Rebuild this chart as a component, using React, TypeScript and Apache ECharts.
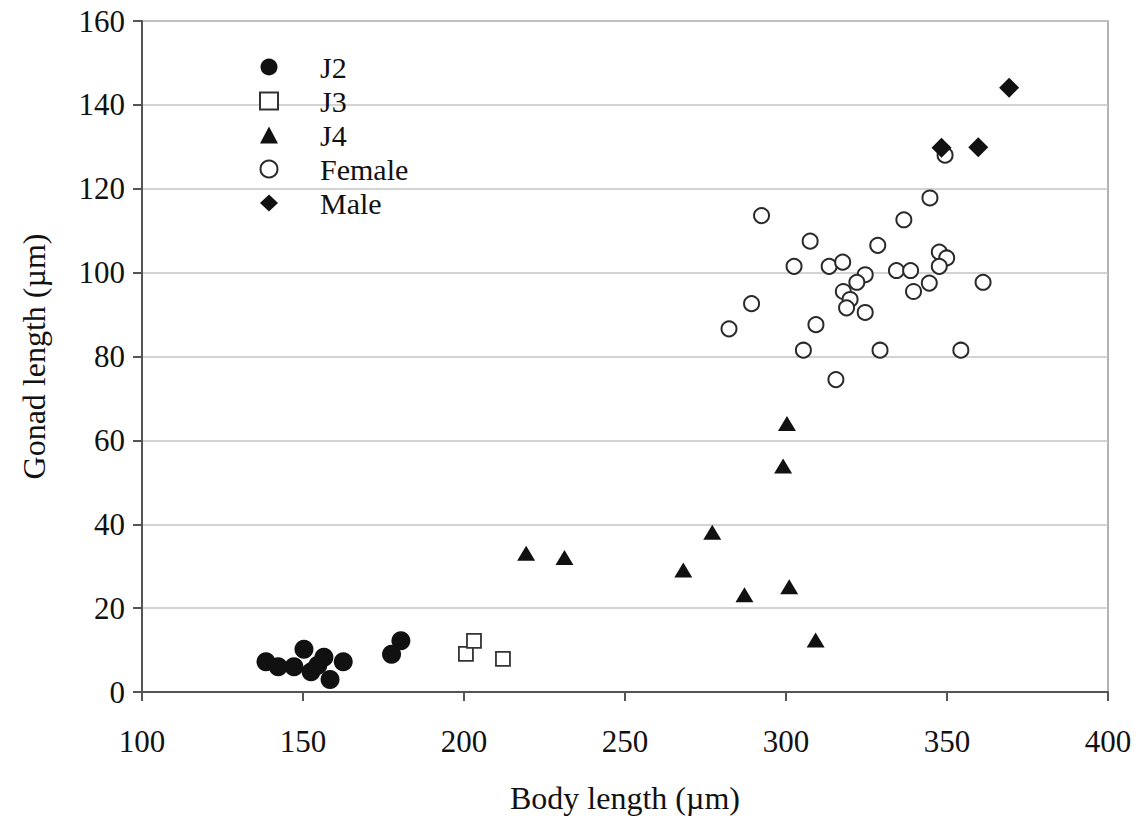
import React, { useEffect, useRef } from "react";
import * as echarts from "echarts";

const j2X = [138.5, 142.3, 147.2, 150.3, 152.5, 154.6, 156.5, 158.4, 162.5, 177.5, 180.4];
const j2Y = [7.2, 6.0, 6.0, 10.2, 4.8, 6.4, 8.3, 3.0, 7.2, 9.0, 12.2];

const j3X = [200.6, 203.1, 212.1];
const j3Y = [9.1, 12.2, 7.9];

const j4X = [219.3, 231.2, 268.1, 277.1, 287.1, 299.1, 300.3, 301.0, 309.2];
const j4Y = [33.1, 32.1, 29.1, 38.1, 23.2, 53.9, 64.0, 25.1, 12.4];

const femaleX = [292.4, 344.7, 336.6, 307.5, 328.5, 302.5, 313.4, 317.6, 324.6, 334.3, 338.7, 347.6, 349.9, 347.6, 361.2, 344.5, 339.6, 322.0, 317.8, 319.9, 318.8, 324.6, 289.3, 282.3, 309.3, 305.4, 329.2, 354.3, 315.5, 349.4];
const femaleY = [113.6, 117.8, 112.6, 107.5, 106.5, 101.5, 101.5, 102.5, 99.5, 100.5, 100.5, 104.9, 103.5, 101.5, 97.7, 97.5, 95.5, 97.7, 95.5, 93.6, 91.6, 90.5, 92.6, 86.6, 87.6, 81.5, 81.5, 81.5, 74.5, 128.0];

const maleX = [348.3, 359.7, 369.3];
const maleY = [129.8, 129.9, 144.1];

const seriesNames = ["J2", "J3", "J4", "Female", "Male"];
const xTicks = [100, 150, 200, 250, 300, 350, 400];
const yTicks = [0, 20, 40, 60, 80, 100, 120, 140, 160];

const zip = (xs: number[], ys: number[]) => xs.map((x, i) => [x, ys[i]]);

const FONT = "'Liberation Serif', 'Times New Roman', serif";
const INK = "#111";

export default function App() {
  const ref = useRef<HTMLDivElement>(null);
  useEffect(() => {
    document.body.style.margin = "0";
    const chart = echarts.init(ref.current!, null, { renderer: "svg" });
    chart.setOption({
      animation: false,
      backgroundColor: "#ffffff",
      grid: {
        left: 142,
        right: 32,
        top: 21,
        bottom: 129,
        show: true,
        borderColor: "#9a9a9a",
        borderWidth: 1.5,
        backgroundColor: "transparent",
      },
      legend: {
        data: seriesNames,
        orient: "vertical",
        left: 254,
        top: 47,
        itemWidth: 18,
        itemHeight: 17,
        itemGap: 4,
        padding: 5,
        selectedMode: false,
        formatter: (name: string) => `{t|${name}}`,
        textStyle: {
          fontFamily: FONT,
          fontSize: 30,
          color: INK,
          rich: {
            t: { fontFamily: FONT, fontSize: 30, color: INK, padding: [0, 0, 0, 37] },
          },
        },
      },
      xAxis: {
        type: "value",
        min: xTicks[0],
        max: xTicks[xTicks.length - 1],
        interval: 50,
        name: "Body length (µm)",
        nameLocation: "middle",
        nameGap: 90,
        nameTextStyle: { fontFamily: FONT, fontSize: 32, color: INK },
        axisLine: { show: true, onZero: false, lineStyle: { color: "#555", width: 2 } },
        axisTick: { show: true, inside: false, length: 9, lineStyle: { color: "#555", width: 2 } },
        axisLabel: { margin: 34, fontFamily: FONT, fontSize: 31, color: INK },
        splitLine: { show: false },
      },
      yAxis: {
        type: "value",
        min: yTicks[0],
        max: yTicks[yTicks.length - 1],
        interval: 20,
        name: "Gonad length (µm)",
        nameLocation: "middle",
        nameGap: 92,
        nameTextStyle: { fontFamily: FONT, fontSize: 32, color: INK },
        axisLine: { show: true, onZero: false, lineStyle: { color: "#555", width: 2 } },
        axisTick: { show: true, inside: false, length: 9, lineStyle: { color: "#555", width: 2 } },
        axisLabel: { margin: 17, fontFamily: FONT, fontSize: 31, color: INK },
        splitLine: { show: true, lineStyle: { color: "#c4c4c4", width: 1.5 } },
      },
      series: [
        {
          name: "J2",
          type: "scatter",
          data: zip(j2X, j2Y),
          symbol: "circle",
          symbolSize: 19,
          itemStyle: { color: INK, opacity: 1 },
        },
        {
          name: "J3",
          type: "scatter",
          data: zip(j3X, j3Y),
          symbol: "rect",
          symbolSize: 14,
          itemStyle: { color: "#ffffff", borderColor: "#333", borderWidth: 1.8, opacity: 1 },
        },
        {
          name: "J4",
          type: "scatter",
          data: zip(j4X, j4Y),
          symbol: "triangle",
          symbolSize: [18, 15],
          itemStyle: { color: INK, opacity: 1 },
        },
        {
          name: "Female",
          type: "scatter",
          data: zip(femaleX, femaleY),
          symbol: "circle",
          symbolSize: 15,
          itemStyle: { color: "#ffffff", borderColor: "#2a2a2a", borderWidth: 2, opacity: 1 },
        },
        {
          name: "Male",
          type: "scatter",
          data: zip(maleX, maleY),
          symbol: "diamond",
          symbolSize: 20,
          itemStyle: { color: INK, opacity: 1 },
        },
      ],
    });
    return () => chart.dispose();
  }, []);
  return <div ref={ref} style={{ width: 1140, height: 821 }} />;
}
